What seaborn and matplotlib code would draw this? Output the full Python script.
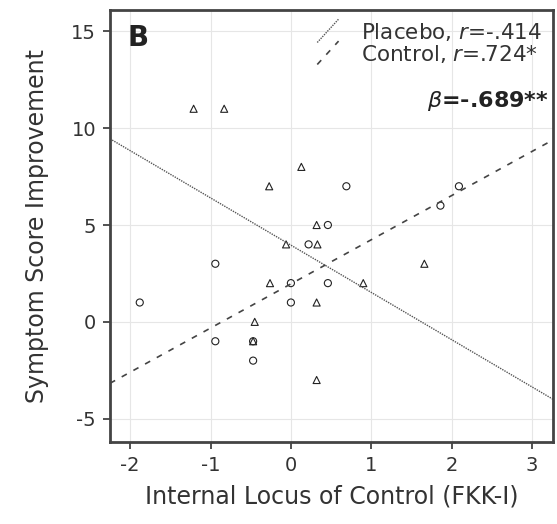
import numpy as np
import pandas as pd
import seaborn as sns
import matplotlib.pyplot as plt
from matplotlib.lines import Line2D
from matplotlib.legend_handler import HandlerBase

# placebo group (triangles)
placebo_x = [-1.21, -0.83, 0.13, -0.27, 0.32, -0.06, 0.33, 1.66, -0.26, 0.90, 0.32, -0.45, -0.47, 0.32]
placebo_y = [11, 11, 8, 7, 5, 4, 4, 3, 2, 2, 1, 0, -1, -3]

# control group (circles)
control_x = [0.69, 2.09, 1.86, 0.46, 0.22, -0.94, 0.00, 0.46, 0.00, -0.94, -0.47, -0.47, -1.88]
control_y = [7, 7, 6, 5, 4, 3, 2, 2, 1, -1, -1, -2, 1]

# regression lines (intercept, slope)
placebo_fit = (3.96, -2.44)
control_fit = (1.96, 2.28)

x_ticks = [-2, -1, 0, 1, 2, 3]
y_ticks = [-5, 0, 5, 10, 15]

df = pd.DataFrame({
    'x': placebo_x + control_x,
    'y': placebo_y + control_y,
    'group': ['Placebo'] * len(placebo_x) + ['Control'] * len(control_x),
})

sns.set_style('whitegrid', {'grid.color': '#e6e6e6', 'axes.edgecolor': '#444444'})
plt.rcParams['font.family'] = ['DejaVu Sans']
plt.rcParams['axes.unicode_minus'] = False

fig = plt.figure(figsize=(5.57, 5.24), dpi=100)
ax = fig.add_axes([0.1975, 0.1565, 0.7953, 0.8245])

sns.scatterplot(data=df, x='x', y='y', style='group',
                markers={'Placebo': '^', 'Control': 'o'},
                s=26, facecolor='none', edgecolor='#222222', linewidth=0.8,
                legend=False, ax=ax)

pl = ax.axline((0, placebo_fit[0]), slope=placebo_fit[1], color='#555555',
               lw=1.0, linestyle=(0, (1, 0.8)))
cl = ax.axline((0, control_fit[0]), slope=control_fit[1], color='#444444',
               lw=1.2, linestyle=(0, (3.5, 4.5)))

ax.set_xlim(-2.25, 3.26)
ax.set_ylim(-6.2, 16.1)
ax.set_xticks(x_ticks)
ax.set_yticks(y_ticks)
ax.tick_params(axis='both', labelsize=14, colors='#333333', length=5, width=1.2,
               direction='out', bottom=True, left=True, pad=5)
for sp in ax.spines.values():
    sp.set_linewidth(2)
    sp.set_color('#444444')

ax.set_xlabel('Internal Locus of Control (FKK-I)', fontsize=17, color='#333333', labelpad=7)
ax.set_ylabel('Symptom Score Improvement', fontsize=17, color='#333333', labelpad=16)


class SlashHandler(HandlerBase):
    def create_artists(self, legend, orig_handle, xdescent, ydescent,
                       width, height, fontsize, trans):
        ln = Line2D([-xdescent + 0.05 * width, -xdescent + 0.95 * width],
                    [-ydescent - 0.25 * height, -ydescent + 1.3 * height])
        ln.update_from(orig_handle)
        ln.set_transform(trans)
        return [ln]


leg = ax.legend([pl, cl], ['Placebo, $r$=-.414', 'Control, $r$=.724*'],
                handler_map={pl: SlashHandler(), cl: SlashHandler()},
                loc='upper right', frameon=False, fontsize=15.5,
                handlelength=1.1, handletextpad=1.0, labelspacing=0.0,
                borderaxespad=0.3, borderpad=0.2)
for t in leg.get_texts():
    t.set_color('#333333')

ax.text(0.04, 0.968, 'B', transform=ax.transAxes, fontsize=20, fontweight='bold',
        ha='left', va='top', color='#222222')
ax.text(0.99, 0.79, r'$\beta$=-.689**', transform=ax.transAxes, fontsize=16,
        fontweight='bold', ha='right', va='center', color='#222222')

fig.savefig('out.png', dpi=100)
